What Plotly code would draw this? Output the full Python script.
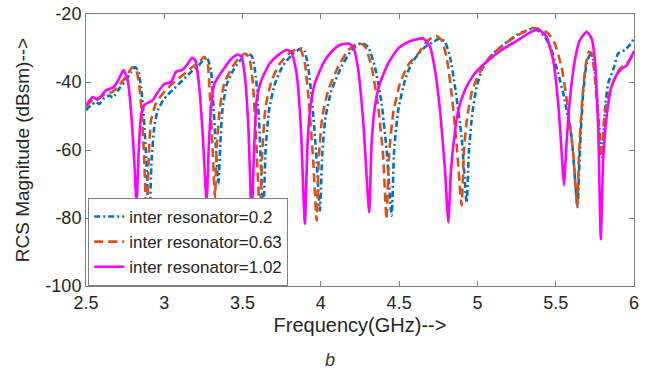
import plotly.graph_objects as go

# ---- data ----
freq_02 = [2.500, 2.532, 2.564, 2.585, 2.617, 2.649, 2.670, 2.713, 2.755, 2.787, 2.815, 2.836, 2.851, 2.866, 2.883, 2.904, 2.919, 2.936, 2.958, 3.000, 3.064, 3.128, 3.181, 3.228,
           3.270, 3.298, 3.313, 3.328, 3.345, 3.358, 3.371, 3.398, 3.441, 3.494, 3.537, 3.562, 3.585, 3.605, 3.632, 3.647, 3.669, 3.707, 3.760, 3.824, 3.877,
           3.898, 3.919, 3.941, 3.966, 3.994, 4.009, 4.030, 4.068, 4.132, 4.196, 4.260, 4.302, 4.345, 4.388, 4.420, 4.452, 4.468, 4.494, 4.537, 4.579, 4.626,
           4.665, 4.718, 4.761, 4.793, 4.825, 4.857, 4.899, 4.931, 4.946, 4.967, 4.995, 5.037, 5.101, 5.176, 5.250, 5.314,
           5.335, 5.388, 5.431, 5.473, 5.516, 5.558, 5.601, 5.639, 5.654, 5.675, 5.697, 5.718, 5.740, 5.761, 5.782, 5.797, 5.814, 5.835, 5.867, 5.899, 5.941, 5.973, 6.000]
rcs_02 = [-48.3, -46.8, -45.9, -46.5, -44.6, -44.0, -44.6, -41.9, -39.5, -37.1, -35.6, -37.1, -41.4, -48.3, -61.0, -81.7, -63.0, -53.2, -48.3, -44.9, -41.9, -39.0, -36.6, -34.7,
          -32.6, -36.5, -46.3, -58.1, -70.0, -58.1, -48.3, -40.9, -36.5, -33.1, -31.6, -32.6, -38.5, -51.3, -79.3, -60.1, -48.3, -40.4, -35.0, -31.6, -30.1,
          -31.1, -35.5, -44.4, -58.1, -77.8, -61.0, -50.3, -42.4, -35.5, -30.6, -28.5, -29.7, -35.5, -46.3, -60.1, -79.3, -60.1, -48.3, -39.5, -34.5, -31.6,
          -29.7, -28.2, -27.2, -28.2, -32.6, -41.4, -56.2, -75.5, -60.1, -49.3, -41.4, -35.5, -31.6, -28.7, -26.2, -24.9,
          -24.5, -24.9, -26.7, -30.6, -37.5, -45.4, -56.2, -76.8, -60.1, -43.4, -34.6, -32.1, -33.6, -43.4, -56.2, -62.1, -48.3, -40.4, -36.5, -31.6, -30.6, -29.1, -27.2]

freq_063 = [2.500, 2.543, 2.585, 2.628, 2.670, 2.713, 2.755, 2.798, 2.819, 2.841, 2.858, 2.872, 2.887, 2.900, 2.915, 2.947, 2.990, 3.053, 3.117, 3.181, 3.224,
            3.256, 3.277, 3.292, 3.307, 3.324, 3.336, 3.356, 3.383, 3.430, 3.473, 3.515, 3.541, 3.564, 3.583, 3.611, 3.626, 3.647, 3.686, 3.739, 3.803, 3.866,
            3.898, 3.924, 3.951, 3.973, 3.987, 4.009, 4.047, 4.111, 4.175, 4.239, 4.281, 4.324, 4.366, 4.398, 4.419, 4.436, 4.462, 4.505, 4.558, 4.622,
            4.665, 4.707, 4.739, 4.771, 4.803, 4.835, 4.867, 4.899, 4.914, 4.935, 4.967, 5.016, 5.080, 5.154, 5.240, 5.314,
            5.346, 5.399, 5.452, 5.494, 5.537, 5.580, 5.612, 5.637, 5.650, 5.669, 5.690, 5.712, 5.729, 5.750, 5.771, 5.793, 5.810, 5.835, 5.867, 5.910, 5.952, 5.980, 6.000]
rcs_063 = [-47.3, -45.2, -44.6, -43.4, -42.9, -40.9, -38.5, -35.6, -36.1, -41.4, -50.3, -63.0, -81.7, -63.0, -51.3, -46.3, -43.4, -40.4, -38.0, -35.5, -34.1,
           -32.6, -34.6, -44.4, -58.1, -73.9, -58.1, -47.3, -40.4, -36.0, -33.1, -31.6, -32.6, -39.5, -53.2, -79.3, -60.1, -47.3, -39.5, -34.5, -31.4, -30.1,
           -34.5, -46.3, -63.0, -80.8, -62.0, -50.3, -42.4, -35.5, -30.6, -28.5, -29.5, -35.5, -47.3, -62.0, -80.3, -61.0, -49.3, -40.4, -35.0, -31.6,
           -28.7, -27.0, -26.5, -27.7, -32.6, -43.4, -58.1, -76.3, -60.1, -50.3, -42.4, -37.0, -32.6, -29.5, -26.7, -24.9,
           -24.2, -24.5, -25.7, -28.7, -35.5, -48.3, -61.0, -76.8, -60.1, -45.4, -35.5, -31.1, -31.6, -38.5, -51.3, -62.1, -50.3, -44.4, -40.0, -36.1, -34.6, -33.1, -30.9]

freq_102 = [2.500, 2.543, 2.574, 2.628, 2.670, 2.700, 2.740, 2.766, 2.787, 2.808, 2.823, 2.836, 2.851, 2.872, 2.925, 2.958, 3.000, 3.043, 3.075, 3.117, 3.149, 3.177, 3.198,
            3.220, 3.245, 3.270, 3.285, 3.300, 3.320, 3.345, 3.388, 3.430, 3.468, 3.494, 3.515, 3.537, 3.558, 3.575, 3.590, 3.620, 3.674, 3.727, 3.780, 3.810, 3.845, 3.872, 3.898,
            3.915, 3.936, 3.962, 4.015, 4.068, 4.121, 4.175, 4.207, 4.239, 4.270, 4.309, 4.324, 4.345, 4.377, 4.430, 4.494, 4.558, 4.654,
            4.697, 4.729, 4.761, 4.793, 4.814, 4.831, 4.852, 4.878, 4.920, 4.974, 5.048, 5.154, 5.240, 5.325,
            5.388, 5.441, 5.484, 5.516, 5.537, 5.552, 5.569, 5.590, 5.622, 5.654, 5.697, 5.729, 5.750, 5.771, 5.788, 5.803, 5.825, 5.856, 5.888, 5.920, 5.952, 5.980, 6.000]
rcs_102 = [-46.8, -44.4, -45.2, -42.4, -41.7, -40.0, -36.5, -39.5, -48.3, -63.0, -75.8, -61.0, -50.0, -46.8, -45.4, -43.0, -40.6, -40.0, -37.0, -36.4, -34.7, -32.9, -33.6,
           -40.0, -55.0, -75.4, -58.0, -47.0, -40.5, -38.5, -35.6, -33.1, -31.9, -32.6, -38.5, -53.2, -79.8, -58.0, -45.4, -39.5, -34.5, -32.1, -30.6, -31.0, -37.5, -53.2, -81.7,
           -58.1, -46.3, -40.4, -34.5, -31.1, -29.1, -28.7, -29.7, -36.5, -51.3, -78.3, -58.1, -47.3, -40.4, -34.5, -30.1, -28.2, -27.2,
           -29.6, -36.5, -48.3, -66.0, -81.3, -66.0, -56.2, -48.3, -42.4, -38.0, -34.5, -30.6, -28.2, -25.7,
           -24.5, -26.7, -33.6, -46.3, -60.1, -70.4, -58.1, -45.4, -33.6, -27.7, -25.2, -27.2, -33.6, -53.2, -86.2, -63.1, -50.3, -41.4, -38.0, -36.1, -35.2, -32.8, -30.9]

series_names = ["inter resonator=0.2", "inter resonator=0.63", "inter resonator=1.02"]
x_ticks = [2.5, 3, 3.5, 4, 4.5, 5, 5.5, 6]
x_tick_text = ["2.5", "3", "3.5", "4", "4.5", "5", "5.5", "6"]
y_ticks = [-100, -80, -60, -40, -20]
y_tick_text = ["-100", "-80", "-60", "-40", "-20"]

fig = go.Figure()
fig.add_trace(go.Scatter(x=freq_02, y=rcs_02, mode="lines", name=series_names[0],
                         line=dict(color="#0072BD", width=2.6, dash="6px,3px,2px,3px", shape="spline", smoothing=0.5)))
fig.add_trace(go.Scatter(x=freq_063, y=rcs_063, mode="lines", name=series_names[1],
                         line=dict(color="#D95319", width=2.6, dash="9px,5px", shape="spline", smoothing=0.5)))
fig.add_trace(go.Scatter(x=freq_102, y=rcs_102, mode="lines", name=series_names[2],
                         line=dict(color="#FF00FF", width=2.6, shape="spline", smoothing=0.5)))

axis_common = dict(showgrid=False, zeroline=False, showline=True, linecolor="#808080", linewidth=1,
                   mirror="ticks", ticks="inside", ticklen=5, tickcolor="#808080", automargin=False,
                   tickfont=dict(family="Arial", size=18, color="#262626"))

fig.update_layout(
    width=659, height=374,
    margin=dict(l=86, r=25, t=14, b=88),
    paper_bgcolor="white", plot_bgcolor="white",
    font=dict(family="Arial", color="#262626"),
    xaxis=dict(range=[2.5, 6], tickvals=x_ticks, ticktext=x_tick_text,
               title=dict(text="Frequency(GHz)-->", font=dict(family="Arial", size=20, color="#262626"), standoff=6),
               **axis_common),
    yaxis=dict(range=[-100, -20], tickvals=y_ticks, ticktext=y_tick_text,
               title=dict(text="RCS Magnitude (dBsm)-->", font=dict(family="Arial", size=19, color="#262626"), standoff=10),
               **axis_common),
    legend=dict(x=0.004, y=0.0, xanchor="left", yanchor="bottom", bgcolor="white",
                bordercolor="#808080", borderwidth=1, font=dict(family="Arial", size=17, color="#262626"),
                tracegroupgap=0, itemwidth=30),
    showlegend=True,
    annotations=[dict(text="<i>b</i>", x=0.445, y=-0.272, xref="paper", yref="paper",
                      xanchor="center", yanchor="middle",
                      showarrow=False, font=dict(family="Arial", size=18, color="#333333"))],
)

fig.write_html("out.html")
